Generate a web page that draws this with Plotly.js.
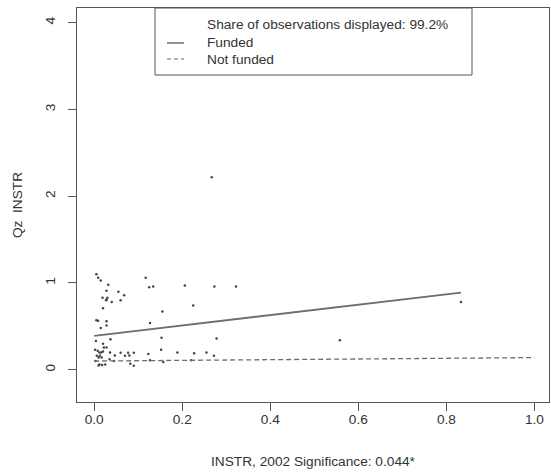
<!DOCTYPE html>
<html>
<head>
<meta charset="utf-8">
<script src="https://cdn.plot.ly/plotly-3.0.1.min.js"></script>
<style>html,body{margin:0;padding:0;background:#fff;}#chart{width:551px;height:476px;}</style>
</head>
<body>
<div id="chart"></div>
<script>
// Scatter observations (x = INSTR 2002, y = Qz INSTR)
const obsX = [0.005,0.009,0.015,0.032,0.028,0.055,0.068,0.019,0.028,0.030,0.027,0.040,0.060,0.020,
  0.005,0.009,0.028,0.028,0.015,0.037,0.004,0.020,0.022,0.028,0.002,0.012,0.016,0.020,0.036,0.060,0.077,0.090,
  0.006,0.010,0.017,0.013,0.047,0.070,0.080,0.012,0.010,0.018,0.025,0.082,0.090,
  0.117,0.125,0.134,0.206,0.273,0.322,0.225,0.155,0.127,0.153,0.278,0.152,0.123,0.189,0.227,0.255,0.272,
  0.127,0.157,0.220,0.267,0.558,0.833,0.003,0.045,0.035,0.008];
const obsY = [1.10,1.06,1.03,0.98,0.91,0.90,0.86,0.83,0.81,0.83,0.80,0.78,0.80,0.71,
  0.57,0.565,0.56,0.51,0.48,0.35,0.33,0.30,0.255,0.255,0.23,0.20,0.20,0.21,0.20,0.195,0.195,0.195,
  0.16,0.14,0.14,0.16,0.165,0.16,0.165,0.06,0.05,0.055,0.06,0.07,0.045,
  1.06,0.95,0.96,0.97,0.96,0.96,0.74,0.67,0.54,0.37,0.36,0.23,0.18,0.20,0.19,0.20,0.16,
  0.11,0.09,0.11,2.22,0.34,0.78,0.10,0.10,0.12,0.22];
// Fitted lines
const fundedX = [0.0, 0.833];
const fundedY = [0.39, 0.89];
const notFundedX = [0.0, 1.0];
const notFundedY = [0.10, 0.14];
// Ticks and labels
const xTicks = [0, 0.2, 0.4, 0.6, 0.8, 1.0];
const xTickText = ["0.0","0.2","0.4","0.6","0.8","1.0"];
const yTicks = [0, 1, 2, 3, 4];
const legendLabels = ["Share of observations displayed: 99.2%", "Funded", "Not funded"];

const txt = '#333333';
const lineCol = '#6e6e6e';
const font = {family: 'Liberation Sans, Arial, sans-serif', size: 13.7, color: txt};

const traces = [
  {x: obsX, y: obsY, mode: 'markers', type: 'scatter',
   marker: {size: 2.5, color: '#444444'}, hoverinfo: 'skip'},
  {x: fundedX, y: fundedY, mode: 'lines', type: 'scatter',
   line: {color: lineCol, width: 1.8}},
  {x: notFundedX, y: notFundedY, mode: 'lines', type: 'scatter',
   line: {color: lineCol, width: 1.3, dash: '5px,3px'}}
];

// legend geometry in pixels -> paper
const L = 77, R = 549, T = 8, B = 402;
const px = v => (v - L) / (R - L);
const py = v => 1 - (v - T) / (B - T);

const shapes = [
  {type: 'rect', xref: 'paper', yref: 'paper', x0: px(155), x1: px(472), y0: py(75), y1: py(8),
   line: {color: '#555555', width: 1}, fillcolor: '#ffffff', layer: 'above'},
  {type: 'line', xref: 'paper', yref: 'paper', x0: px(167), x1: px(184), y0: py(43), y1: py(43),
   line: {color: lineCol, width: 1.5}},
  {type: 'line', xref: 'paper', yref: 'paper', x0: px(167), x1: px(184), y0: py(59), y1: py(59),
   line: {color: lineCol, width: 1.2, dash: '4px,3px'}}
];
const legendY = [25, 43, 59];
const annotations = legendLabels.map((t, i) => ({
  text: t, xref: 'paper', yref: 'paper', x: px(205), y: py(legendY[i]),
  xanchor: 'left', yanchor: 'middle', showarrow: false, font: font
}));

const layout = {
  width: 551, height: 476,
  margin: {l: L, r: 551 - R, t: T, b: 476 - B},
  paper_bgcolor: '#ffffff', plot_bgcolor: '#ffffff',
  showlegend: false,
  font: font,
  xaxis: {
    range: [-0.039, 1.033], tickvals: xTicks, ticktext: xTickText,
    ticks: 'outside', ticklen: 8, tickcolor: '#555555', tickwidth: 1,
    showline: true, mirror: true, linecolor: '#555555', linewidth: 1,
    showgrid: false, zeroline: false, tickfont: font,
    ticklabelstandoff: -3,
    title: {text: 'INSTR, 2002 Significance: 0.044*', font: font, standoff: 29}
  },
  yaxis: {
    range: [-0.372, 4.17], tickvals: yTicks,
    ticks: 'outside', ticklen: 8, tickcolor: '#555555', tickwidth: 1,
    showline: true, mirror: true, linecolor: '#555555', linewidth: 1,
    showgrid: false, zeroline: false, tickangle: -90, tickfont: font,
    ticklabelstandoff: 8,
    title: {text: 'Qz  INSTR', font: font, standoff: 16}
  },
  shapes: shapes,
  annotations: annotations
};

Plotly.newPlot('chart', traces, layout, {displayModeBar: false, staticPlot: true});
</script>
</body>
</html>
